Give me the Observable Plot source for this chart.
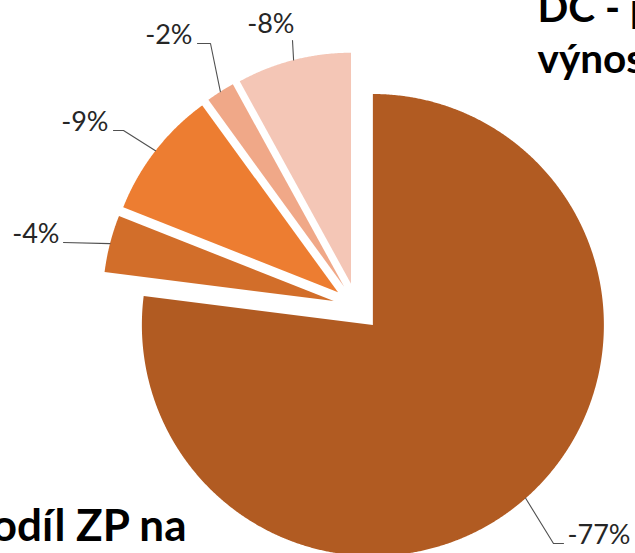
<!DOCTYPE html>
<html><head><meta charset="utf-8">
<script src="https://cdn.jsdelivr.net/npm/d3@7"></script>
<script src="https://cdn.jsdelivr.net/npm/@observablehq/plot@0.6"></script>
<style>html,body{margin:0;padding:0;background:#fff;overflow:hidden;width:635px;height:553px}#chart svg{display:block}</style>
</head><body><div id="chart"></div>
<script>
// ---- data ----
const values = [-77, -4, -9, -2, -8];
const labels = values.map(v => `${v}%`);
const titleLines = ["DC - podíl ZP na", "výnosech"];
const otherTitle = "Podíl ZP na";

// ---- styles / layout ----
const colors = ["#B15B22", "#D26E2A", "#ED7D31", "#F0A888", "#F4C6B6"];
const W = 635, H = 553;
const cx = 356.5, cy = 306.5, r = 231, explode = 24;
// label leader end points & elbows (manual label placement, as in the original)
const leaderEnd = [[563, 543], [63, 242], [113, 130], [197, 43], [292, 40]];
const leaderElbow = [[553, 543], null, [123, 130], [210, 43], null];
const labelAnchor = ["start", "end", "end", "end", "end"];
const labelShift = [[4, 0], [-4, 0], [-5, 0], [-5, 0], [2, -8]];

const pie = d3.pie().sort(null).value(d => Math.abs(d)).startAngle(0).endAngle(2 * Math.PI)(values);

const polys = [];
const leaders = [];
const texts = [];
pie.forEach((p, i) => {
  const mid = (p.startAngle + p.endAngle) / 2;
  const ax = cx + explode * Math.sin(mid), ay = cy - explode * Math.cos(mid);
  polys.push({i, x: ax, y: ay});
  const n = Math.max(2, Math.ceil((p.endAngle - p.startAngle) / (Math.PI / 720)));
  for (let k = 0; k <= n; k++) {
    const a = p.startAngle + (p.endAngle - p.startAngle) * k / n;
    polys.push({i, x: ax + r * Math.sin(a), y: ay - r * Math.cos(a)});
  }
  polys.push({i, x: ax, y: ay});
  const sx = ax + r * Math.sin(mid), sy = ay - r * Math.cos(mid);
  leaders.push({i, x: sx, y: sy});
  if (leaderElbow[i]) leaders.push({i, x: leaderElbow[i][0], y: leaderElbow[i][1]});
  leaders.push({i, x: leaderEnd[i][0], y: leaderEnd[i][1]});
  texts.push({i, label: labels[i], x: leaderEnd[i][0] + labelShift[i][0], y: leaderEnd[i][1] + labelShift[i][1], anchor: labelAnchor[i]});
});

const marks = [];
pie.forEach((p, i) => {
  marks.push(Plot.line(polys.filter(d => d.i === i), {x: "x", y: "y", fill: colors[i], stroke: "none", curve: "linear"}));
});
marks.push(Plot.line(leaders, {x: "x", y: "y", z: "i", stroke: "#505050", strokeWidth: 1.1}));
["start", "end"].forEach(anc => {
  marks.push(Plot.text(texts.filter(d => d.anchor === anc), {
    x: "x", y: "y", text: "label", textAnchor: anc, lineAnchor: "bottom",
    fontFamily: "Lato, Carlito, sans-serif", fontSize: 27, fill: "#262626"
  }));
});
marks.push(Plot.text(titleLines, {
  x: () => 537, y: (d, k) => [21, 72][k], text: d => d, textAnchor: "start", lineAnchor: "bottom",
  fontFamily: "Lato, sans-serif", fontWeight: "bold", fontSize: 40.5, fill: "#000"
}));
marks.push(Plot.text([otherTitle], {
  x: () => 186, y: () => 540, text: d => d, textAnchor: "end", lineAnchor: "bottom",
  fontFamily: "Lato, sans-serif", fontWeight: "bold", fontSize: 44, fill: "#000"
}));

const chart = Plot.plot({
  width: W, height: H, margin: 0,
  x: {domain: [0, W], range: [0, W], axis: null},
  y: {domain: [0, H], range: [0, H], axis: null},
  style: {background: "#fff", overflow: "hidden"},
  marks
});
document.getElementById("chart").append(chart);
</script>
</body></html>
